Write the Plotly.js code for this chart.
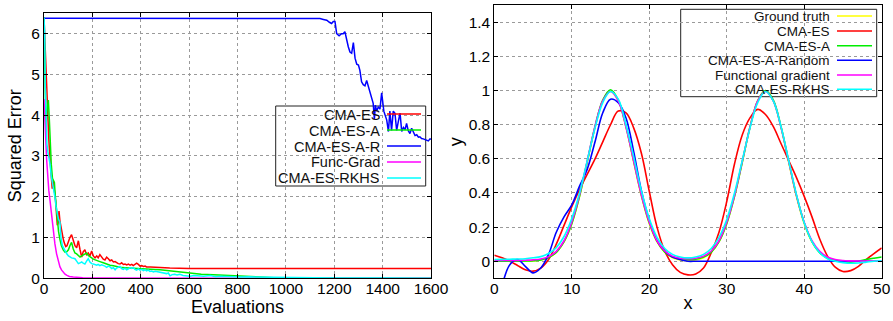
<!DOCTYPE html>
<html>
<head>
<meta charset="utf-8">
<script src="https://cdn.plot.ly/plotly-3.0.1.min.js"></script>
<style>html,body{margin:0;padding:0;background:#fff;}#chart{width:893px;height:321px;}</style>
</head>
<body>
<div id="chart"></div>
<script>
// ---------- Left panel: squared error vs evaluations ----------
const leftNames = ["CMA-ES", "CMA-ES-A", "CMA-ES-A-R", "Func-Grad", "CMA-ES-RKHS"];

const cmaesX = [0,5,10,15,20,25,30,34,37,40,44,48,52,55,58,62,66,70,75,80,85,90,95,100,107,114,121,128,135,142,149,156,162,169,176,183,190,197,204,211,218,224,231,238,245,252,259,266,273,280,287,294,300,307,314,321,328,335,342,349,356,363,369,376,383,390,397,404,411,418,424,440,460,480,500,520,560,600,800,1000,1200,1400,1600];
const cmaesY = [6.4,5.6,4.7,4.0,3.4,2.9,2.5,2.2,2.4,2.3,2.1,1.9,1.65,1.3,1.35,1.65,1.4,1.25,1.1,0.95,0.85,0.78,0.8,0.9,1.0,1.07,0.93,0.8,0.75,0.92,0.7,0.52,0.65,0.7,0.58,0.62,0.55,0.67,0.55,0.5,0.55,0.5,0.58,0.52,0.47,0.45,0.52,0.48,0.43,0.45,0.4,0.41,0.38,0.36,0.35,0.38,0.34,0.35,0.33,0.35,0.32,0.34,0.31,0.33,0.37,0.34,0.3,0.31,0.29,0.3,0.28,0.28,0.27,0.265,0.26,0.25,0.245,0.24,0.24,0.24,0.24,0.24,0.24];

const cmaesAX = [0,4,8,12,18,22,26,30,35,40,43,47,52,56,60,66,72,80,87,94,101,107,114,121,128,135,142,149,156,162,169,176,183,190,197,204,211,218,231,245,259,273,287,300,314,335,355,370,400,440,480,520,560,600,650,700,755,800,850,893,950,1030,1200,1400,1600];
const cmaesAY = [6.4,5.0,3.7,4.1,4.37,3.9,3.3,2.8,2.45,2.4,2.35,2.0,1.6,1.3,1.15,0.95,0.8,0.69,0.64,0.65,0.7,0.8,0.88,0.72,0.62,0.6,0.55,0.52,0.55,0.57,0.6,0.62,0.56,0.52,0.5,0.47,0.45,0.43,0.41,0.38,0.35,0.32,0.31,0.29,0.27,0.26,0.25,0.24,0.23,0.22,0.21,0.18,0.15,0.12,0.1,0.085,0.07,0.055,0.04,0.025,0.015,0.01,0.006,0.004,0.003];

const cmaesARX = [0,200,400,600,800,1000,1100,1141,1155,1169,1180,1189,1196,1203,1210,1220,1230,1237,1244,1251,1258,1265,1272,1279,1286,1293,1300,1306,1313,1320,1327,1334,1341,1348,1354,1361,1366,1370,1375,1382,1389,1396,1405,1411,1417,1424,1430,1437,1444,1451,1458,1465,1472,1479,1486,1493,1499,1506,1513,1520,1527,1534,1541,1548,1554,1561,1568,1575,1582,1589,1596,1600];
const cmaesARY = [6.38,6.38,6.38,6.38,6.38,6.38,6.375,6.37,6.35,6.33,6.28,6.25,6.3,6.3,6.0,5.95,6.0,6.0,6.05,5.85,5.68,5.55,5.52,5.78,5.4,5.25,5.23,5.1,4.82,4.75,4.72,4.85,4.7,4.6,4.45,4.29,3.9,4.25,4.1,4.2,4.15,4.55,4.1,3.95,3.88,3.6,4.1,3.63,4.1,4.05,3.63,3.85,4.05,3.6,3.7,3.65,3.8,3.62,3.55,3.68,3.6,3.5,3.52,3.46,3.47,3.43,3.42,3.4,3.39,3.37,3.42,3.41];

const funcGradX = [0,4,8,11,15,20,25,30,35,38,42,45,52,59,66,73,80,87,95,105,121,136,160,200,300,500,800,1600];
const funcGradY = [4.4,4.0,3.3,2.9,2.5,2.15,1.9,1.6,1.3,1.1,0.95,0.85,0.6,0.42,0.28,0.2,0.14,0.1,0.07,0.045,0.03,0.02,0.012,0.008,0.005,0.003,0.002,0.001];

const rkhsX = [0,3,5,8,12,16,20,25,30,35,40,45,50,55,60,66,70,76,82,87,94,101,107,114,121,128,135,142,149,156,162,169,176,183,190,197,204,211,218,224,231,238,245,252,259,266,273,280,287,294,300,307,314,321,328,335,342,349,356,363,369,376,383,390,397,404,411,418,424,431,438,445,452,460,470,480,490,500,507,514,521,530,540,550,562,575,590,604,620,640,660,687,710,730,755,780,810,850,893,930,960,1000,1030,1100,1200,1400,1600];
const rkhsY = [6.4,6.0,4.8,3.7,3.3,3.1,3.0,2.8,2.5,2.35,2.2,2.0,1.75,1.55,1.45,1.38,1.0,0.8,0.72,0.69,0.6,0.55,0.52,0.5,0.49,0.48,0.42,0.36,0.38,0.4,0.37,0.35,0.42,0.48,0.4,0.36,0.35,0.33,0.32,0.34,0.31,0.33,0.32,0.3,0.27,0.3,0.28,0.24,0.26,0.21,0.25,0.27,0.29,0.24,0.22,0.25,0.21,0.23,0.26,0.24,0.26,0.22,0.2,0.23,0.2,0.22,0.19,0.21,0.18,0.2,0.17,0.18,0.155,0.17,0.16,0.155,0.13,0.12,0.115,0.13,0.06,0.09,0.1,0.08,0.1,0.07,0.06,0.05,0.07,0.06,0.05,0.07,0.04,0.05,0.04,0.035,0.03,0.035,0.03,0.025,0.03,0.02,0.02,0.012,0.008,0.005,0.004];

const leftTickVals = [0,200,400,600,800,1000,1200,1400,1600];
const leftYTickVals = [0,1,2,3,4,5,6];

// ---------- Right panel: fitted functions ----------
const rightNames = ["Ground truth", "CMA-ES", "CMA-ES-A", "CMA-ES-A-Random", "Functional gradient", "CMA-ES-RKHS"];
const xs = [0,1,2,3,4,5,6,7,8,9,10,11,12,13,14,15,16,17,18,19,20,21,22,23,24,25,26,27,28,29,30,31,32,33,34,35,36,37,38,39,40,41,42,43,44,45,46,47,48,49,50];
const groundTruth = [0,0,0,0,0.001,0.002,0.007,0.021,0.051,0.113,0.22,0.379,0.58,0.785,0.941,1,0.941,0.785,0.58,0.379,0.22,0.113,0.051,0.021,0.008,0.005,0.008,0.021,0.051,0.113,0.22,0.379,0.58,0.785,0.941,1,0.941,0.785,0.58,0.379,0.22,0.113,0.051,0.021,0.007,0.002,0.001,0,0,0,0];
const fitCmaes = [0.035,0.02,0.0,-0.025,-0.05,-0.058,-0.04,0.01,0.1,0.21,0.32,0.42,0.51,0.6,0.7,0.8,0.88,0.87,0.78,0.63,0.41,0.2,0.06,-0.02,-0.065,-0.08,-0.075,-0.04,0.05,0.17,0.35,0.57,0.74,0.84,0.89,0.86,0.79,0.69,0.59,0.49,0.38,0.26,0.13,0.03,-0.035,-0.06,-0.055,-0.03,0.01,0.045,0.078];
const fitCmaesA = [0,0,0,0,0.001,0.003,0.008,0.022,0.052,0.115,0.22,0.38,0.585,0.79,0.945,1.005,0.945,0.79,0.585,0.385,0.225,0.118,0.055,0.025,0.012,0.01,0.012,0.024,0.053,0.115,0.222,0.38,0.58,0.785,0.94,1.0,0.945,0.79,0.585,0.385,0.225,0.115,0.05,0.018,0.004,-0.003,-0.005,0.0,0.01,0.018,0.025];
const fitCmaesAR = [-0.3,-0.14,-0.02,0.01,-0.03,-0.068,-0.04,0.04,0.17,0.26,0.33,0.44,0.54,0.7,0.87,0.95,0.93,0.84,0.64,0.41,0.24,0.12,0.06,0.025,0.01,0,0,0,0,0,0,0,0,0,0,0,0,0,0,0,0,0,0,0,0,0,0,0,0,0,0];
const fitFuncGrad = [0.005,0.005,0.005,0.005,0.006,0.008,0.013,0.027,0.058,0.12,0.23,0.39,0.59,0.79,0.94,0.995,0.94,0.785,0.585,0.385,0.23,0.12,0.06,0.03,0.018,0.015,0.018,0.03,0.06,0.12,0.228,0.385,0.585,0.785,0.94,0.995,0.94,0.785,0.585,0.385,0.228,0.12,0.058,0.025,0.01,0.004,0.002,0.001,0.001,0.001,0.001];
const fitRkhs = [0.01,0.011,0.012,0.013,0.015,0.02,0.027,0.045,0.08,0.145,0.25,0.4,0.59,0.78,0.93,0.995,0.95,0.8,0.61,0.41,0.25,0.14,0.075,0.04,0.025,0.02,0.025,0.04,0.075,0.14,0.245,0.4,0.59,0.78,0.93,0.995,0.94,0.79,0.59,0.39,0.225,0.115,0.05,0.015,0.0,-0.008,-0.012,-0.01,-0.005,0.0,0.003];

const rightXTicks = [0,10,20,30,40,50];
const rightYTicks = [0,0.2,0.4,0.6,0.8,1,1.2,1.4];

// ---------- styling ----------
const W = 893, H = 321;
const FONT = "Liberation Sans, Arial, sans-serif";
const colRed = "#ff0000", colGreen = "#00ee00", colBlue = "#0000ff", colMag = "#ff00ff", colCyan = "#00ffff", colYellow = "#ffff00";
const px = v => v / W;
const py = v => 1 - v / H;

const traces = [];
const leftSeries = [
  [cmaesX, cmaesY, colRed],
  [cmaesAX, cmaesAY, colGreen],
  [cmaesARX, cmaesARY, colBlue],
  [funcGradX, funcGradY, colMag],
  [rkhsX, rkhsY, colCyan]
];
leftSeries.forEach((s, i) => traces.push({
  x: s[0], y: s[1], name: leftNames[i], type: "scatter", mode: "lines",
  xaxis: "x", yaxis: "y", line: {color: s[2], width: 1.5}, showlegend: false, hoverinfo: "skip"
}));

const rightSeries = [
  [groundTruth, colYellow],
  [fitCmaes, colRed],
  [fitCmaesA, colGreen],
  [fitCmaesAR, colBlue],
  [fitFuncGrad, colMag],
  [fitRkhs, colCyan]
];
rightSeries.forEach((s, i) => traces.push({
  x: xs, y: s[0], name: rightNames[i], type: "scatter", mode: "lines",
  xaxis: "x2", yaxis: "y2", line: {color: s[1], width: 1.6, shape: "spline", smoothing: 1}, showlegend: false, hoverinfo: "skip"
}));

const axisBase = {
  showline: true, linecolor: "#000", linewidth: 1, mirror: "allticks",
  ticks: "inside", ticklen: 4, tickcolor: "#000",
  showgrid: true, gridcolor: "#9a9a9a", griddash: "dot", gridwidth: 1,
  zeroline: false, automargin: false,
  tickfont: {family: FONT, size: 15.5, color: "#000"}
};

const shapes = [];
const annotations = [];

// left legend
shapes.push({type: "rect", xref: "paper", yref: "paper", x0: px(275.7), x1: px(425.7), y0: py(186), y1: py(106),
  line: {color: "#222", width: 1}, fillcolor: "rgba(0,0,0,0)", layer: "below"});
const leftCols = [colRed, colGreen, colBlue, colMag, colCyan];
const leftRows = [114, 130, 146, 162, 178];
leftNames.forEach((n, i) => {
  annotations.push({xref: "paper", yref: "paper", x: px(381), y: py(leftRows[i]), xanchor: "right", yanchor: "middle",
    text: n, showarrow: false, borderpad: 0, height: 15, font: {family: FONT, size: 14.5, color: "#111"}});
  shapes.push({type: "line", xref: "paper", yref: "paper", x0: px(387), x1: px(421), y0: py(leftRows[i]), y1: py(leftRows[i]),
    line: {color: leftCols[i], width: 1.6}});
});

// right legend
shapes.push({type: "rect", xref: "paper", yref: "paper", x0: px(680.7), x1: px(876.7), y0: py(96.7), y1: py(9.3),
  line: {color: "#222", width: 1}, fillcolor: "rgba(0,0,0,0)", layer: "below"});
const rightCols = [colYellow, colRed, colGreen, colBlue, colMag, colCyan];
const rightRows = [16, 31, 45.7, 60.3, 75, 89.3];
rightNames.forEach((n, i) => {
  annotations.push({xref: "paper", yref: "paper", x: px(830.5), y: py(rightRows[i]), xanchor: "right", yanchor: "middle",
    text: n, showarrow: false, borderpad: 0, height: 14, font: {family: FONT, size: 13.5, color: "#111"}});
  shapes.push({type: "line", xref: "paper", yref: "paper", x0: px(837), x1: px(872), y0: py(rightRows[i]), y1: py(rightRows[i]),
    line: {color: rightCols[i], width: 1.6}});
});

const layout = {
  width: W, height: H,
  margin: {l: 0, r: 0, t: 0, b: 0, pad: 0},
  paper_bgcolor: "#fff", plot_bgcolor: "#fff",
  showlegend: false,
  xaxis: Object.assign({}, axisBase, {
    domain: [px(44), px(431)], range: [0, 1600], tickvals: leftTickVals, anchor: "y", ticklabelstandoff: -4,
    title: {text: "Evaluations", font: {family: FONT, size: 18, color: "#000"}, standoff: 0}
  }),
  yaxis: Object.assign({}, axisBase, {
    domain: [py(278.3), py(13.3)], range: [0, 6.5], tickvals: leftYTickVals, anchor: "x",
    title: {text: "Squared Error", font: {family: FONT, size: 18, color: "#000"}, standoff: 4}
  }),
  xaxis2: Object.assign({}, axisBase, {
    domain: [px(494.3), px(881.7)], range: [0, 50], tickvals: rightXTicks, anchor: "y2", ticklabelstandoff: -4,
    title: {text: "x", font: {family: FONT, size: 18, color: "#000"}, standoff: 0}
  }),
  yaxis2: Object.assign({}, axisBase, {
    domain: [py(278.3), py(5.3)], range: [-0.1, 1.5], tickvals: rightYTicks, anchor: "x2",
    title: {text: "y", font: {family: FONT, size: 18, color: "#000"}, standoff: 1}
  }),
  shapes: shapes,
  annotations: annotations
};

Plotly.newPlot("chart", traces, layout, {staticPlot: true, displayModeBar: false});
</script>
</body>
</html>
